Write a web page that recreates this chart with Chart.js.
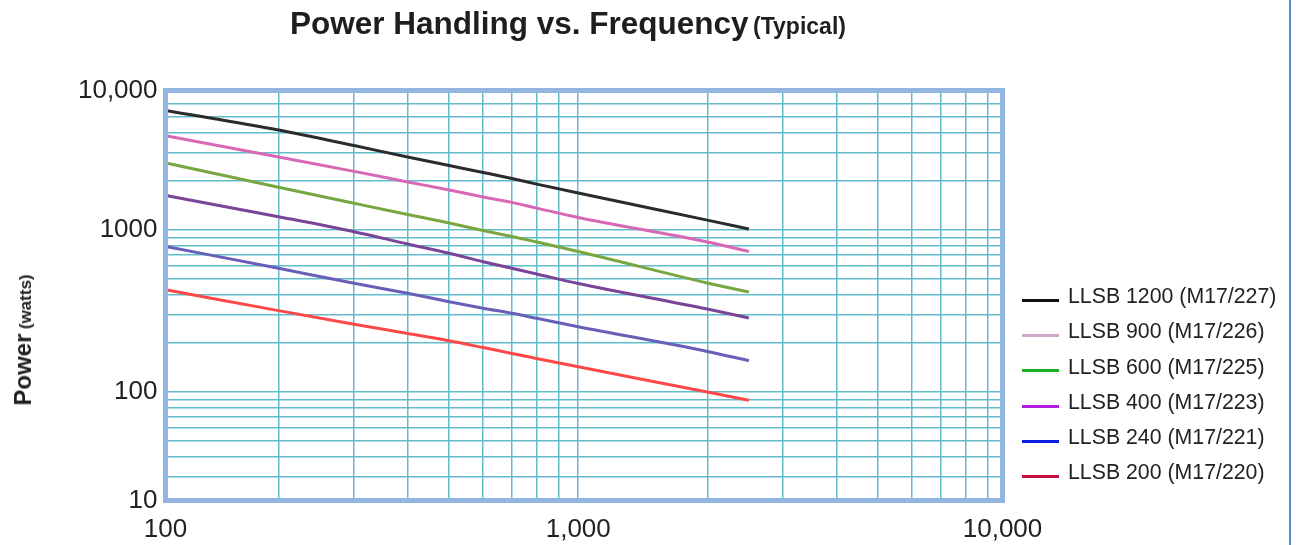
<!DOCTYPE html>
<html>
<head>
<meta charset="utf-8">
<script src="https://cdn.jsdelivr.net/npm/chart.js@4/dist/chart.umd.min.js"></script>
<style>
  html, body { margin: 0; padding: 0; background: #fff; }
  body { width: 1296px; height: 545px; position: relative; overflow: hidden;
         font-family: "Liberation Sans", Arial, Helvetica, sans-serif; color: #222; }
  #chart { position: absolute; left: 0; top: 0; }
  #title { position: absolute; left: 290px; top: 5px; white-space: nowrap; font-weight: bold; color: #1e1e1e; }
  #title .big { font-size: 31.5px; }
  #title .small { font-size: 23px; }
  #ytitle { position: absolute; left: 23px; top: 340px; white-space: nowrap; font-weight: bold;
            transform: translate(-50%, -50%) rotate(-90deg); color: #1e1e1e; }
  #ytitle .big { font-size: 24px; }
  #ytitle .small { font-size: 17px; }
  #legend { position: absolute; left: 1022px; top: 279px; }
  #legend .row { height: 35.3px; line-height: 35.3px; font-size: 21.3px; white-space: nowrap; color: #222; }
  #legend .swatch { display: inline-block; width: 37px; height: 3px; margin-right: 9px; vertical-align: middle; position: relative; top: 3px; }
  #edge { position: absolute; left: 1289px; top: 0; width: 2px; height: 545px; background: #5b8fd4; }
</style>
</head>
<body>
<canvas id="chart" width="1296" height="545"></canvas>
<div id="title"><span class="big">Power Handling vs. Frequency</span> <span class="small">(Typical)</span></div>
<div id="ytitle"><span class="big">Power</span> <span class="small">(watts)</span></div>
<div id="legend"></div>
<div id="edge"></div>
<script>
// frequency in MHz (log paper: 1,000 and 10,000 on the heavy decade lines)
const freqMHz = [110, 200, 300, 400, 500, 600, 700, 800, 1000, 2000, 2500];

// power handling, watts
const llsb1200 = [5450, 4140, 3320, 2820, 2500, 2265, 2080, 1920, 1690, 1150, 1015];
const llsb900  = [3800, 2820, 2300, 1980, 1765, 1600, 1480, 1365, 1195, 843, 737];
const llsb600  = [2580, 1835, 1462, 1246, 1105, 993, 912, 843, 737, 471, 414];
const llsb400  = [1628, 1208, 976, 820, 718, 637, 580, 535, 467, 325, 286];
const llsb240  = [789, 580, 469, 407, 361, 329, 306, 285, 253, 178, 156];
const llsb200  = [426, 318, 262, 230, 207, 188, 173, 161, 143, 100, 89];

const seriesNames = ['LLSB 1200 (M17/227)', 'LLSB 900 (M17/226)', 'LLSB 600 (M17/225)',
                     'LLSB 400 (M17/223)', 'LLSB 240 (M17/221)', 'LLSB 200 (M17/220)'];
const seriesValues = [llsb1200, llsb900, llsb600, llsb400, llsb240, llsb200];
const lineColors = ['#2b2b2b', '#d868b6', '#78a640', '#7a4499', '#6a5fb8', '#ff4848'];
const legendColors = ['#111111', '#d4a6c6', '#1fae1f', '#b01ee6', '#0a1fe0', '#c4103a'];

// axis range of the graph paper and its grid lines
const xMin = 109, xMax = 9760;
const yMin = 21.4, yMax = 7260;
const xGrid = [200, 300, 400, 500, 600, 700, 800, 900, 1000, 2000, 3000, 4000, 5000, 6000, 7000, 8000, 9000];
const yGrid = [30, 40, 50, 60, 70, 80, 90, 100, 200, 300, 400, 500, 600, 700, 800, 900, 1000, 2000, 3000, 4000, 5000, 6000];

// tick labels as printed
const xEdgeLabels = ['100', '10,000'];
const xMidLabels = { 1000: '1,000' };
const yEdgeLabels = ['10', '10,000'];
const yMidLabels = { 100: '100', 1000: '1000' };

const datasets = seriesNames.map((name, i) => ({
  label: name,
  data: freqMHz.map((f, j) => ({ x: f, y: seriesValues[i][j] })),
  borderColor: lineColors[i],
  backgroundColor: lineColors[i],
  borderWidth: 3,
  pointRadius: 0,
  fill: false,
  cubicInterpolationMode: 'monotone'
}));

function tickLabel(edge, mid){
  return function(value, index, ticks){
    if (index === 0) return edge[0];
    if (index === ticks.length - 1) return edge[1];
    return mid[value] || '';
  };
}

const framePlugin = {
  id: 'frame',
  afterDatasetsDraw(chart){
    const a = chart.chartArea;
    const ctx = chart.ctx;
    ctx.save();
    ctx.strokeStyle = '#93b5e1';
    ctx.lineWidth = 5;
    ctx.strokeRect(a.left, a.top, a.right - a.left, a.bottom - a.top);
    ctx.restore();
  }
};

Chart.defaults.font.family = '"Liberation Sans", Arial, Helvetica, sans-serif';
Chart.defaults.color = '#222';

new Chart(document.getElementById('chart').getContext('2d'), {
  type: 'line',
  data: { datasets },
  options: {
    responsive: false,
    animation: false,
    layout: { padding: { top: 90.5, right: 293.5, left: 0, bottom: 0 } },
    plugins: { legend: { display: false }, title: { display: false }, tooltip: { enabled: false } },
    scales: {
      x: {
        type: 'logarithmic',
        min: xMin, max: xMax,
        afterBuildTicks: s => { s.ticks = [xMin, ...xGrid, xMax].map(v => ({ value: v })); },
        afterFit: s => { s.height = 44.5; },
        grid: { color: '#62bdca', lineWidth: 1.5, drawTicks: false },
        border: { display: false },
        ticks: { autoSkip: false, maxRotation: 0, padding: 14, font: { size: 26 }, color: '#222',
                 callback: tickLabel(xEdgeLabels, xMidLabels) }
      },
      y: {
        type: 'logarithmic',
        min: yMin, max: yMax,
        afterBuildTicks: s => { s.ticks = [yMin, ...yGrid, yMax].map(v => ({ value: v })); },
        afterFit: s => { s.width = 165.5; },
        grid: { color: '#62bdca', lineWidth: 1.5, drawTicks: false },
        border: { display: false },
        ticks: { autoSkip: false, padding: 8, font: { size: 26 }, color: '#222',
                 callback: tickLabel(yEdgeLabels, yMidLabels) }
      }
    }
  },
  plugins: [framePlugin]
});

// legend built from the same series arrays
const legend = document.getElementById('legend');
seriesNames.forEach((name, i) => {
  const row = document.createElement('div');
  row.className = 'row';
  row.innerHTML = `<span class="swatch" style="background:${legendColors[i]}"></span>${name}`;
  legend.appendChild(row);
});
</script>
</body>
</html>
